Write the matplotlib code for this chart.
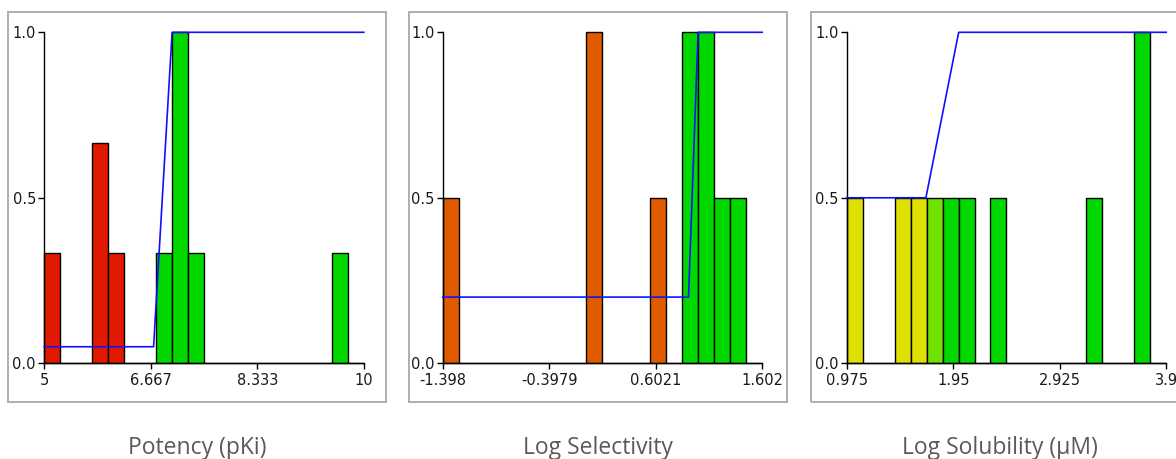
import matplotlib
matplotlib.use("Agg")
import matplotlib.pyplot as plt
from matplotlib.patches import Rectangle
import numpy as np

W, H = 1176, 459

# ---- data ----
titles = ["Potency (pKi)", "Log Selectivity", "Log Solubility (\u00b5M)"]
ranges = [(5.0, 10.0), (-1.398, 1.602), (0.975, 3.9)]
tick_values = [[5, 6.667, 8.333, 10], [-1.398, -0.3979, 0.6021, 1.602], [0.975, 1.95, 2.925, 3.9]]
tick_labels = [["5", "6.667", "8.333", "10"], ["-1.398", "-0.3979", "0.6021", "1.602"],
               ["0.975", "1.95", "2.925", "3.9"]]

R, O, Y, YG, G = "#E01A00", "#E05A00", "#DDE000", "#70E000", "#00D800"

heights1 = [1/3, 0, 0, 2/3, 1/3, 0, 0, 1/3, 1.0, 1/3, 0, 0, 0, 0, 0, 0, 0, 0, 1/3, 0]
colors1 = [R, R, R, R, R, R, G, G, G, G, G, G, G, G, G, G, G, G, G, G]
heights2 = [0.5, 0, 0, 0, 0, 0, 0, 0, 0, 1.0, 0, 0, 0, 0.5, 0, 1.0, 1.0, 0.5, 0.5, 0]
colors2 = [O, O, O, O, O, O, O, O, O, O, O, O, O, O, O, G, G, G, G, G]
heights3 = [0.5, 0, 0, 0.5, 0.5, 0.5, 0.5, 0.5, 0, 0.5, 0, 0, 0, 0, 0, 0.5, 0, 0, 1.0, 0]
colors3 = [Y, Y, Y, Y, Y, YG, G, G, G, G, G, G, G, G, G, G, G, G, G, G]

curve1_x = [5.0, 6.71, 7.0, 10.0]
curve1_y = [0.05, 0.05, 1.0, 1.0]
curve2_x = [-1.398, 0.91, 1.0, 1.602]
curve2_y = [0.2, 0.2, 1.0, 1.0]
curve3_x = [0.975, 1.70, 2.0, 3.9]
curve3_y = [0.5, 0.5, 1.0, 1.0]

heights = [heights1, heights2, heights3]
colors = [colors1, colors2, colors3]
curves = [(curve1_x, curve1_y), (curve2_x, curve2_y), (curve3_x, curve3_y)]

# ---- layout (pixels) ----
inner_left = [44.3, 442.7, 846.7]
inner_w = 319.5
inner_top, inner_bot = 32.3, 363.3
frame_left = [8.3, 409.3, 810.7]
frame_w = 378.0
frame_top, frame_bot = 12.0, 401.5

fig = plt.figure(figsize=(W / 100, H / 100), dpi=100)
fig.patch.set_facecolor("white")

for i in range(3):
    # outer gray frame
    fig.patches.append(Rectangle((frame_left[i] / W, 1 - frame_bot / H), frame_w / W,
                                 (frame_bot - frame_top) / H, transform=fig.transFigure,
                                 fill=False, edgecolor="#A8A8A8", linewidth=1.3))
    ax = fig.add_axes([inner_left[i] / W, 1 - inner_bot / H, inner_w / W, (inner_bot - inner_top) / H])
    lo, hi = ranges[i]
    edges = np.linspace(lo, hi, len(heights[i]) + 1)
    ax.bar(edges[:-1], heights[i], width=np.diff(edges), align="edge", color=colors[i],
           edgecolor="black", linewidth=1.0, clip_on=False, zorder=2)
    cx, cy = curves[i]
    ax.plot(cx, cy, color="#1010FF", linewidth=1.2, clip_on=False, zorder=3)
    ax.set_xlim(lo, hi)
    ax.set_ylim(0, 1)
    for s in ["top", "right"]:
        ax.spines[s].set_visible(False)
    for s in ["left", "bottom"]:
        ax.spines[s].set_color("black")
        ax.spines[s].set_linewidth(1.0)
    ax.set_xticks(tick_values[i])
    ax.set_xticklabels(tick_labels[i])
    ax.set_yticks([0, 0.5, 1.0])
    ax.set_yticklabels(["0.0", "0.5", "1.0"])
    ax.tick_params(axis="both", length=4, width=1, color="black", labelsize=10.5,
                   labelcolor="#1a1a1a", pad=2)
    ax.tick_params(axis="x", pad=3)
    ax.patch.set_alpha(0)
    fig.text((frame_left[i] + frame_w / 2) / W, 1 - 447.5 / H, titles[i], ha="center", va="center",
             fontsize=16.5, color="#595959", family="Open Sans")

fig.savefig("out.png", dpi=100)
